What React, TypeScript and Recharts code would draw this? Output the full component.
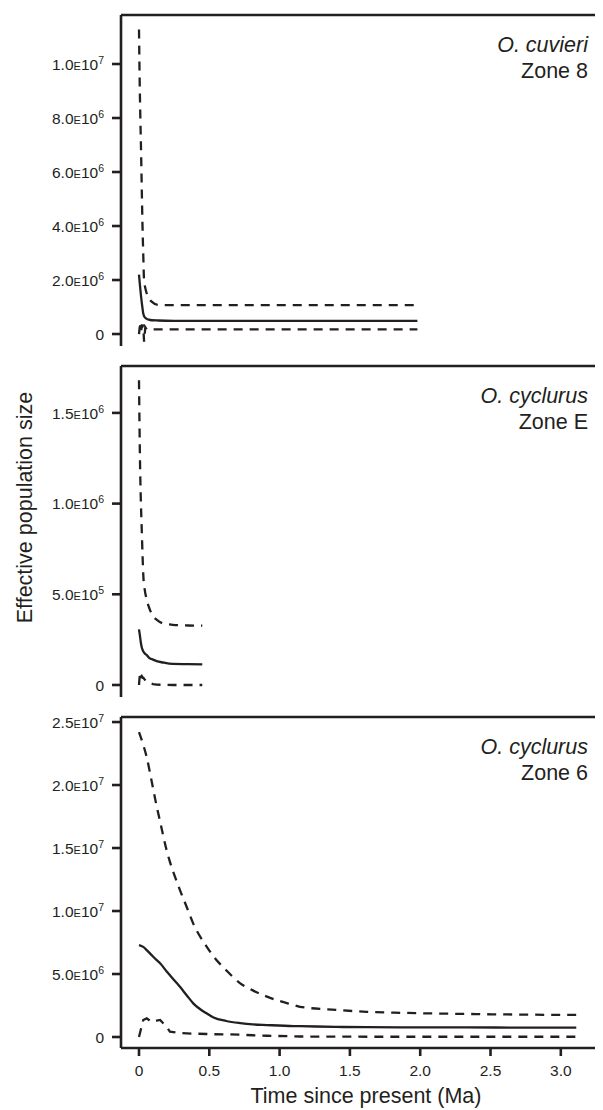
import { LineChart, Line, XAxis, YAxis, ReferenceLine } from 'recharts';

const INK = '#231f20';
const FONT = '"Liberation Sans", Arial, Helvetica, sans-serif';

// time axis (Ma), shared by all three panels
const timeDomain = [-0.128, 3.549];
const timeTicks = [0, 0.5, 1, 1.5, 2, 2.5, 3];

// O. cuvieri, Zone 8
const cuvT = [0, 0.005, 0.01, 0.015, 0.02, 0.025, 0.03, 0.036, 0.045, 0.055, 0.07, 0.09, 0.137, 0.25, 0.5, 1.0, 1.5, 1.98];
const cuvMed = [2.2e6, 1.9e6, 1.63e6, 1.38e6, 1.15e6, 0.95e6, 0.77e6, 0.66e6, 0.6e6, 0.56e6, 0.53e6, 0.51e6, 0.5e6, 0.49e6, 0.49e6, 0.49e6, 0.49e6, 0.49e6];
const cuvLo = [0.0, 0.25e6, 0.32e6, 0.1e6, 0.3e6, 0.28e6, 0.35e6, -0.28e6, 0.25e6, 0.17e6, 0.17e6, 0.17e6, 0.17e6, 0.17e6, 0.17e6, 0.17e6, 0.17e6, 0.17e6];
const cuvHi = [11.28e6, 9.3e6, 7.9e6, 6.7e6, 5.3e6, 4.0e6, 3.0e6, 2.0e6, 1.7e6, 1.5e6, 1.32e6, 1.2e6, 1.08e6, 1.07e6, 1.07e6, 1.07e6, 1.07e6, 1.07e6];
const cuvTicks = [0, 2e6, 4e6, 6e6, 8e6, 1e7];

// O. cyclurus, Zone E
const cycET = [0, 0.007, 0.012, 0.019, 0.025, 0.031, 0.04, 0.055, 0.075, 0.1, 0.125, 0.17, 0.24, 0.35, 0.45];
const cycEMed = [0.307e6, 0.27e6, 0.24e6, 0.21e6, 0.195e6, 0.185e6, 0.175e6, 0.165e6, 0.148e6, 0.14e6, 0.132e6, 0.124e6, 0.116e6, 0.115e6, 0.114e6];
const cycELo = [0, 0.07e6, 0.045e6, 0.05e6, 0.04e6, 0.04e6, 0.03e6, 0.02e6, 0.01e6, 0.005e6, 0.002e6, 0.001e6, 0, 0, 0];
const cycEHi = [1.68e6, 1.24e6, 1.05e6, 0.87e6, 0.72e6, 0.6e6, 0.53e6, 0.47e6, 0.42e6, 0.38e6, 0.36e6, 0.34e6, 0.332e6, 0.328e6, 0.327e6];
const cycETicks = [0, 5e5, 1e6, 1.5e6];

// O. cyclurus, Zone 6
const cyc6T = [0, 0.03, 0.055, 0.09, 0.126, 0.15, 0.197, 0.22, 0.27, 0.29, 0.34, 0.386, 0.48, 0.53, 0.62, 0.72, 0.81, 0.91, 1.1, 1.145, 1.4, 1.62, 1.86, 2.33, 2.7, 3.11];
const cyc6Med = [7.3e6, 7.15e6, 6.9e6, 6.5e6, 6.1e6, 5.85e6, 5.2e6, 4.9e6, 4.26e6, 4.0e6, 3.3e6, 2.67e6, 1.88e6, 1.55e6, 1.27e6, 1.1e6, 1.0e6, 0.95e6, 0.87e6, 0.86e6, 0.8e6, 0.78e6, 0.77e6, 0.76e6, 0.75e6, 0.74e6];
const cyc6Lo = [0, 1.35e6, 1.48e6, 1.2e6, 1.3e6, 1.35e6, 0.8e6, 0.42e6, 0.35e6, 0.32e6, 0.29e6, 0.27e6, 0.24e6, 0.22e6, 0.21e6, 0.18e6, 0.14e6, 0.1e6, 0.05e6, 0.04e6, 0.03e6, 0.02e6, 0.02e6, 0.02e6, 0.02e6, 0.02e6];
const cyc6Hi = [24.2e6, 23.2e6, 22.2e6, 20.3e6, 18.3e6, 17.1e6, 14.8e6, 13.9e6, 12.3e6, 11.7e6, 10.3e6, 9.0e6, 7.2e6, 6.4e6, 5.3e6, 4.26e6, 3.7e6, 3.2e6, 2.54e6, 2.4e6, 2.15e6, 2.0e6, 1.92e6, 1.83e6, 1.78e6, 1.75e6];
const cyc6Ticks = [0, 5e6, 1e7, 1.5e7, 2e7, 2.5e7];

const rows = (t: number[], med: number[], lo: number[], hi: number[]) =>
  t.map((v, i) => ({ t: v, med: med[i], lo: lo[i], hi: hi[i] }));

function SciTick({ x, y, payload }: any) {
  const v = payload.value;
  const common = { x, y, dy: 5.6, textAnchor: 'end' as const, fontSize: 15.5, fill: INK, fontFamily: FONT };
  if (v === 0) return <text {...common}>0</text>;
  const exp = Math.floor(Math.log10(v) + 1e-9);
  const mant = (v / Math.pow(10, exp)).toFixed(1);
  return (
    <text {...common}>
      {mant}
      <tspan fontSize={11}>E</tspan>
      10
      <tspan fontSize={10.5} dy={-5.8}>{exp}</tspan>
    </text>
  );
}

const axisStroke = { stroke: INK, strokeWidth: 2.6 };

function Panel({ data, yDomain, yTicks, showX, top }: any) {
  const height = showX ? 381 : 341;
  return (
    <div style={{ position: 'absolute', left: 0, top }}>
      <LineChart width={640} height={height} data={data} margin={{ top: 5, right: 10, bottom: 5, left: 0 }}>
        <XAxis
          dataKey="t"
          type="number"
          domain={timeDomain}
          allowDataOverflow
          ticks={timeTicks}
          interval={0}
          height={showX ? 40 : 0}
          tick={showX ? { fontSize: 15.5, fill: INK, fontFamily: FONT } : false}
          tickLine={showX ? axisStroke : false}
          tickSize={8}
          tickMargin={9}
          axisLine={axisStroke}
          tickFormatter={(v: number) => (v === 0 ? '0' : v.toFixed(1))}
        />
        <YAxis
          type="number"
          domain={yDomain}
          allowDataOverflow
          ticks={yTicks}
          interval={0}
          width={113}
          tick={<SciTick />}
          tickSize={9}
          tickMargin={8}
          axisLine={axisStroke}
          tickLine={axisStroke}
        />
        <ReferenceLine y={yDomain[1]} stroke={INK} strokeWidth={2.6} />
        <Line dataKey="hi" type="monotone" stroke={INK} strokeWidth={2.3} strokeDasharray="9 7" dot={false} isAnimationActive={false} />
        <Line dataKey="lo" type="linear" stroke={INK} strokeWidth={2.3} strokeDasharray="9 7" dot={false} isAnimationActive={false} />
        <Line dataKey="med" type="monotone" stroke={INK} strokeWidth={2.3} dot={false} isAnimationActive={false} />
      </LineChart>
    </div>
  );
}

function PanelLabel({ top, species, zone }: any) {
  return (
    <>
      <text x={580} y={top + 37} textAnchor="end" fontSize={21.5} fontStyle="italic" fill={INK} fontFamily={FONT}>{species}</text>
      <text x={580} y={top + 63} textAnchor="end" fontSize={21.5} fill={INK} fontFamily={FONT}>{zone}</text>
    </>
  );
}

export default function App() {
  return (
    <div style={{ position: 'relative', width: 595, height: 1102, overflow: 'hidden', background: '#fff' }}>
      <Panel data={rows(cuvT, cuvMed, cuvLo, cuvHi)} yDomain={[-0.444e6, 11.815e6]} yTicks={cuvTicks} showX={false} top={2} />
      <Panel data={rows(cycET, cycEMed, cycELo, cycEHi)} yDomain={[-0.0662e6, 1.7586e6]} yTicks={cycETicks} showX={false} top={353} />
      <Panel data={rows(cyc6T, cyc6Med, cyc6Lo, cyc6Hi)} yDomain={[-0.873e6, 25.4e6]} yTicks={cyc6Ticks} showX top={704} />
      <svg width={595} height={1102} style={{ position: 'absolute', left: 0, top: 0, pointerEvents: 'none' }}>
        <PanelLabel top={7} species="O. cuvieri" zone="Zone 8" />
        <PanelLabel top={358} species="O. cyclurus" zone="Zone E" />
        <PanelLabel top={709} species="O. cyclurus" zone="Zone 6" />
        <text x={358} y={1095} textAnchor="middle" fontSize={21.5} fill={INK} fontFamily={FONT}>Time since present (Ma)</text>
        <text transform="translate(23.5, 499.5) rotate(-90)" textAnchor="middle" fontSize={21.5} fill={INK} fontFamily={FONT}>Effective population size</text>
      </svg>
    </div>
  );
}
